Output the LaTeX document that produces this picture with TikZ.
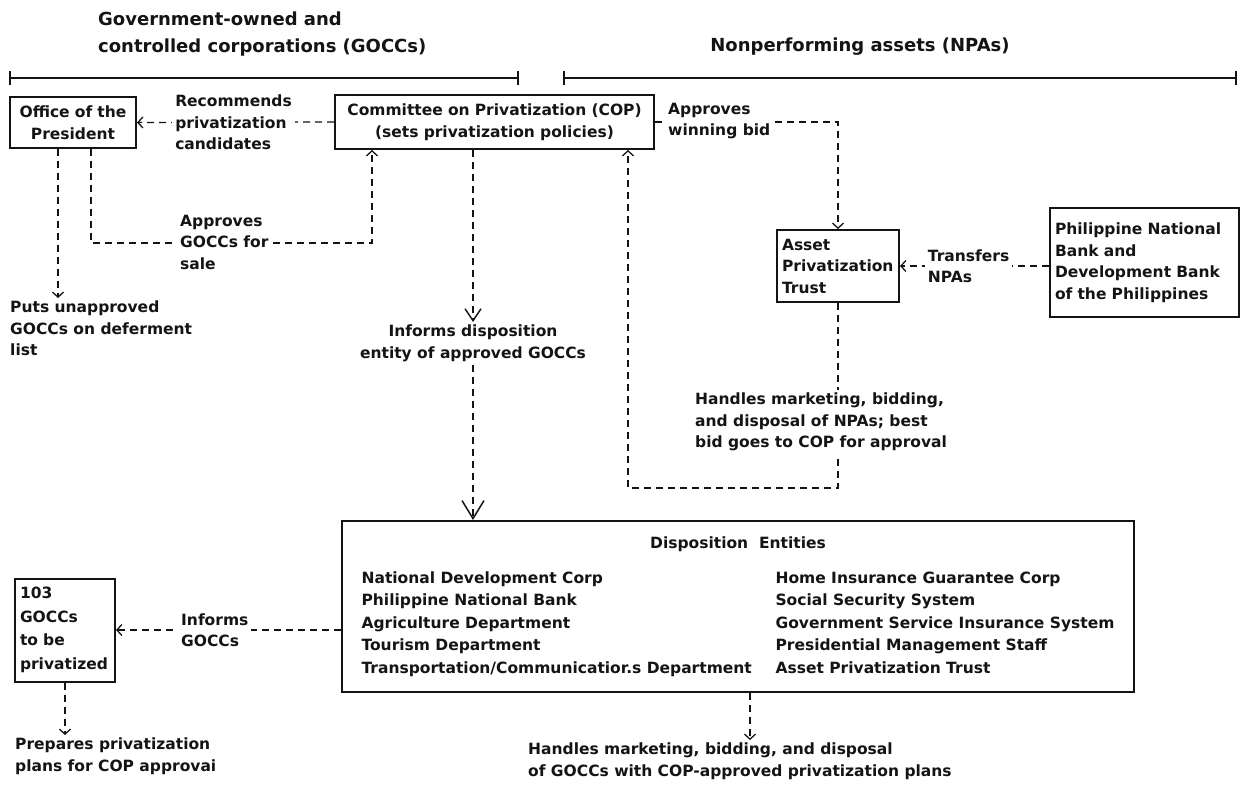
\documentclass[tikz,border=0pt]{standalone}
\usepackage{fontspec}
\setmainfont{DejaVu Sans}
\usepackage{tikz}
\usepackage{xcolor}
\definecolor{ScanInk}{HTML}{141414}
\usetikzlibrary{positioning,arrows.meta}

\tikzset{
  txt/.style={font=\bfseries\fontsize{15.5}{21.5}\selectfont, text=ScanInk, inner sep=3pt},
  lbl/.style={txt, align=left, fill=white},
  head/.style={font=\bfseries\fontsize{18}{27}\selectfont, text=ScanInk, align=left, inner sep=0pt},
  box/.style={txt, draw=ScanInk, line width=2pt, inner sep=5pt},
  flow/.style={draw=ScanInk, line width=1.3pt, dash pattern=on 7pt off 5pt,
    -{Straight Barb[length=5pt,width=11pt,line width=1.3pt]}},
  bigflow/.style={flow, -{Straight Barb[length=12pt,width=16pt,line width=1.4pt]}},
  hugeflow/.style={flow, -{Straight Barb[length=18pt,width=22pt,line width=1.5pt]}},
  span/.style={draw=ScanInk, line width=2pt, {Bar[width=14pt]}-{Bar[width=14pt]}}
}

\begin{document}
\begin{tikzpicture}[x=1pt, y=-1pt]
  \useasboundingbox (0,0) rectangle (1245,786);

  % Headings and spans
  \node[head, anchor=west] (gocchead) at (98,34) {Government-owned and\\controlled corporations (GOCCs)};
  \node[head] (npahead) at (860,47) {Nonperforming assets (NPAs)};
  \coordinate (goccL) at (9,78);   \coordinate (goccR) at (519,78);
  \coordinate (npaL) at (563,78);  \coordinate (npaR) at (1237,78);
  \draw[span] (goccL) -- (goccR);
  \draw[span] (npaL) -- (npaR);

  % Boxes
  \node[box, text width=116pt, minimum height=51pt, align=center] (office) at (73,122.5) {Office of the\\President};
  \node[box, text width=309pt, minimum height=54pt, align=center] (cop) at (494.5,122) {Committee on Privatization (COP)\\(sets privatization policies)};
  \node[box, text width=112pt, minimum height=72pt, align=left] (apt) at (838,266) {Asset\\Privatization\\Trust};
  \node[box, text width=179pt, minimum height=109pt, align=left] (pnb) at (1144.5,262.5) {Philippine National\\Bank and\\Development Bank\\of the Philippines};
  \node[box, font=\bfseries\fontsize{15.5}{23.5}\selectfont, text width=90pt, minimum height=103pt, align=left] (gocc) at (65,630) {103\\GOCCs\\to be\\privatized};
  \node[box, font=\bfseries\fontsize{15.5}{22.5}\selectfont, inner xsep=20pt, minimum width=788pt, minimum height=171pt] (disp) at (738,606.5) {%
    \begin{tabular}{@{}p{414pt}@{}l@{}}
      \multicolumn{2}{c}{Disposition~ Entities}\\[12pt]
      National Development Corp & Home Insurance Guarantee Corp\\
      Philippine National Bank & Social Security System\\
      Agriculture Department & Government Service Insurance System\\
      Tourism Department & Presidential Management Staff\\
      Transportation/Communicatior.s Department & Asset Privatization Trust
    \end{tabular}};

  % Free labels
  \node[lbl, anchor=north west] (puts) at (7,298) {Puts unapproved\\GOCCs on deferment\\list};
  \node[lbl, anchor=north, align=center] (informs) at (473,322) {Informs disposition\\entity of approved GOCCs};
  \node[lbl, anchor=north west] (prepares) at (12,735) {Prepares privatization\\plans for COP approvai};
  \node[lbl, anchor=north west] (handlesgocc) at (525,740) {Handles marketing, bidding, and disposal\\of GOCCs with COP-approved privatization plans};

  % GOCC side
  \draw[flow] (cop.west) -- node[lbl, pos=0.51] (recommend) {Recommends\\privatization\\candidates} (office.east);
  \draw[flow] ([xshift=18pt]office.south) -- ++(0,94) -| ([xshift=-122.5pt]cop.south);
  \node[lbl, anchor=west] (approvesale) at (177,242) {Approves\\GOCCs for\\sale};
  \draw[flow] ([xshift=-15pt]office.south) -- ([xshift=-15pt]office.south |- puts.north);
  \draw[bigflow] ([xshift=-21.5pt]cop.south) -- ([xshift=-21.5pt]cop.south |- informs.north);
  \draw[hugeflow] (informs.south) -- (informs.south |- disp.north);

  % NPA side
  \draw[flow] (cop.east) -| (apt.north);
  \node[lbl, anchor=west] (winbid) at (665,121) {Approves\\winning bid};
  \draw[flow] (pnb.west |- apt.east) -- node[lbl, pos=0.54] (transfer) {Transfers\\NPAs} (apt.east);
  \draw[flow] (apt.south) -- ++(0,185) -| ([xshift=133.5pt]cop.south);
  \node[lbl, anchor=west] (handlesnpa) at (692,422) {Handles marketing, bidding,\\and disposal of NPAs; best\\bid goes to COP for approval};

  % Disposition outputs
  \draw[flow] ([yshift=-23.5pt]disp.west) -- node[lbl, pos=0.56] (informgocc) {Informs\\GOCCs} (gocc.east);
  \draw[flow] (gocc.south) -- (gocc.south |- prepares.north);
  \draw[flow] ([xshift=12pt]disp.south) -- ([xshift=12pt]disp.south |- handlesgocc.north);
\end{tikzpicture}
\end{document}
